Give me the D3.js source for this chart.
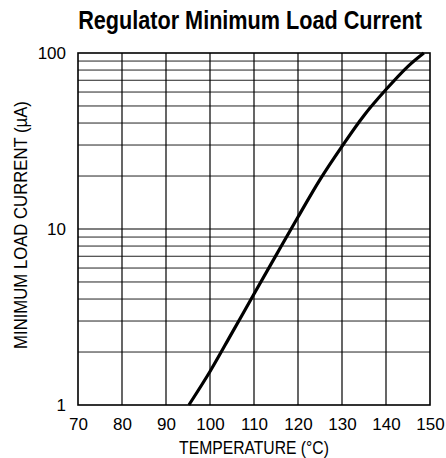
<!DOCTYPE html>
<html>
<head>
<meta charset="utf-8">
<script src="https://cdn.jsdelivr.net/npm/d3@7"></script>
<style>
  body { margin: 0; background: #fff; }
  svg { display: block; }
</style>
</head>
<body>
<div id="chart"></div>
<script>
// curve: temperature (°C) vs minimum load current (µA)
var temps    = [95.2, 100, 105, 110, 115, 120, 125, 130, 135, 140, 145, 148.6];
var currents = [1, 1.55, 2.57, 4.27, 7.08, 11.7, 19.1, 29.5, 44.2, 62, 84, 100];

var xTicks = [70, 80, 90, 100, 110, 120, 130, 140, 150];
var yTicks = [1, 10, 100];
var yGrid  = [2, 3, 4, 5, 6, 7, 8, 9, 20, 30, 40, 50, 60, 70, 80, 90];

var W = 446, H = 458;
var margin = { top: 53, right: 16, bottom: 53, left: 78 };
var width = W - margin.left - margin.right;
var height = H - margin.top - margin.bottom;

var svg = d3.select('#chart').append('svg')
  .attr('width', W)
  .attr('height', H);

var g = svg.append('g')
  .attr('transform', 'translate(' + margin.left + ',' + margin.top + ')');

var x = d3.scaleLinear().domain([70, 150]).range([0, width]);
var y = d3.scaleLog().domain([1, 100]).range([height, 0]);

// horizontal grid (minor decades)
g.selectAll('.hgrid')
  .data(yGrid)
  .enter().append('line')
    .attr('class', 'hgrid')
    .attr('x1', 0).attr('x2', width)
    .attr('y1', function (d) { return y(d); })
    .attr('y2', function (d) { return y(d); })
    .attr('stroke', '#222')
    .attr('stroke-width', 1);

// decade line at 10
g.append('line')
  .attr('x1', 0).attr('x2', width)
  .attr('y1', y(10)).attr('y2', y(10))
  .attr('stroke', '#000')
  .attr('stroke-width', 1.2);

// vertical grid
g.selectAll('.vgrid')
  .data(xTicks.slice(1, -1))
  .enter().append('line')
    .attr('class', 'vgrid')
    .attr('x1', function (d) { return x(d); })
    .attr('x2', function (d) { return x(d); })
    .attr('y1', 0).attr('y2', height)
    .attr('stroke', '#000')
    .attr('stroke-width', 1.2);

// frame
g.append('rect')
  .attr('width', width).attr('height', height)
  .attr('fill', 'none')
  .attr('stroke', '#000')
  .attr('stroke-width', 1.6);

// the curve
var line = d3.line()
  .x(function (d, i) { return x(temps[i]); })
  .y(function (d) { return y(d); })
  .curve(d3.curveCatmullRom);

g.append('path')
  .datum(currents)
  .attr('d', line)
  .attr('fill', 'none')
  .attr('stroke', '#000')
  .attr('stroke-width', 3.2)
  .attr('stroke-linecap', 'butt');

// axes labels (no tick marks, just text)
var xAxis = d3.axisBottom(x).tickValues(xTicks).tickSize(0).tickPadding(13).tickFormat(d3.format('d'));
var yAxis = d3.axisLeft(y).tickValues(yTicks).tickSize(0).tickPadding(12).tickFormat(d3.format('d'));

var gx = g.append('g').attr('transform', 'translate(0,' + height + ')').call(xAxis);
var gy = g.append('g').call(yAxis);
[gx, gy].forEach(function (a) {
  a.select('.domain').remove();
  a.selectAll('text')
    .attr('fill', '#000')
    .style('font-family', '"Liberation Sans", Arial, sans-serif')
    .style('font-size', '17px');
});

// no narrow font installed, so squeeze text horizontally to a target width
function condensed(cx, cy, angle, targetW, size, weight, str) {
  var t = svg.append('text')
    .attr('text-anchor', 'middle')
    .style('font-family', '"Liberation Sans", Arial, sans-serif')
    .style('font-weight', weight)
    .style('font-size', size + 'px')
    .text(str);
  var k = targetW / t.node().getComputedTextLength();
  t.attr('transform', 'translate(' + cx + ',' + cy + ') rotate(' + angle + ') scale(' + k + ',1)');
  return t;
}

condensed(250, 29, 0, 344, 26, 'bold', 'Regulator Minimum Load Current');
condensed(margin.left + width / 2, 454, 0, 150, 18, 'normal', 'TEMPERATURE (°C)');
condensed(27, margin.top + height / 2 - 4, -90, 248, 18, 'normal', 'MINIMUM LOAD CURRENT (µA)');
</script>
</body>
</html>
